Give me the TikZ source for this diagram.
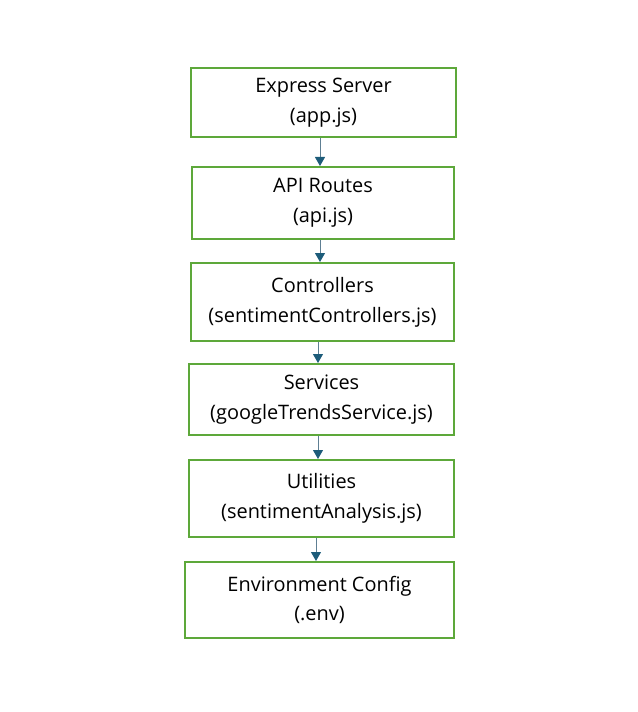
\documentclass[tikz,border=0pt]{standalone}
\usepackage{fontspec}
\setmainfont{Open Sans}
\usetikzlibrary{arrows.meta}

\definecolor{boxgreen}{HTML}{5DA83A}
\definecolor{linkline}{HTML}{5E7F93}
\definecolor{linkhead}{HTML}{1D5C7A}

\tikzset{
  layer/.style={draw=boxgreen, line width=2bp, align=center, inner sep=0pt,
    font=\fontsize{20}{30}\selectfont},
  flow/.style={draw=linkline, line width=1bp,
    -{Triangle[length=9bp, width=10bp, color=linkhead]}}
}

\begin{document}
\begin{tikzpicture}[x=1bp, y=-1bp]
\useasboundingbox (0,0) rectangle (638,712);

\node[layer, minimum width=265bp, minimum height=69bp] (server) at (323.5,102.5) {Express Server\\(app.js)};
\node[layer, minimum width=262bp, minimum height=72bp] (routes) at (323,203) {API Routes\\(api.js)};
\node[layer, minimum width=263bp, minimum height=78bp] (ctrl) at (322.5,302) {Controllers\\(sentimentControllers.js)};
\node[layer, minimum width=265bp, minimum height=71bp] (svc) at (321.5,399.5) {Services\\(googleTrendsService.js)};
\node[layer, minimum width=265bp, minimum height=77bp] (util) at (321.5,498.5) {Utilities\\(sentimentAnalysis.js)};
\node[layer, minimum width=269bp, minimum height=76bp] (env) at (319.5,600) {Environment Config\\(.env)};

\draw[flow] ([xshift=-3.5bp]server.south) -- ([xshift=-3.5bp]server.south |- routes.north);
\draw[flow] ([xshift=-3bp]routes.south) -- ([xshift=-3bp]routes.south |- ctrl.north);
\draw[flow] ([xshift=-4.5bp]ctrl.south) -- ([xshift=-4.5bp]ctrl.south |- svc.north);
\draw[flow] ([xshift=-3.5bp]svc.south) -- ([xshift=-3.5bp]svc.south |- util.north);
\draw[flow] ([xshift=-5.5bp]util.south) -- ([xshift=-5.5bp]util.south |- env.north);
\end{tikzpicture}
\end{document}
